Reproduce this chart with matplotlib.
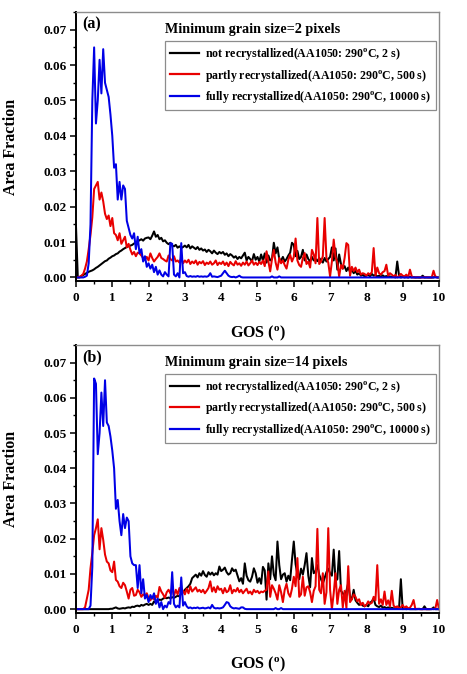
import numpy as np
import matplotlib
matplotlib.use("Agg")
import matplotlib.pyplot as plt
from matplotlib.ticker import MultipleLocator, FormatStrFormatter

plt.rcParams["font.family"] = ["Liberation Serif", "DejaVu Serif"]
plt.rcParams["font.weight"] = "bold"
plt.rcParams["mathtext.fontset"] = "custom"
plt.rcParams["mathtext.rm"] = "Liberation Serif:bold"
plt.rcParams["mathtext.bf"] = "Liberation Serif:bold"
plt.rcParams["mathtext.it"] = "Liberation Serif:bold"
plt.rcParams["mathtext.default"] = "bf"

# GOS grid (degrees), step 0.05
gos = np.linspace(0, 10, 201)

labels = [
    r"not recrystallized(AA1050: 290$^{o}$C, 2 s)",
    r"partly recrystallized(AA1050: 290$^{o}$C, 500 s)",
    r"fully recrystallized(AA1050: 290$^{o}$C, 10000 s)",
]
titles = ["Minimum grain size=2 pixels", "Minimum grain size=14 pixels"]
panel_tags = ["(a)", "(b)"]

# ---- panel (a): minimum grain size 2 pixels ----
a_not = [
    0.0145, 0.0, 0.0, 0.0004, 0.0007, 0.001, 0.0013, 0.0016, 0.0018, 0.002, 0.0023, 0.0027, 0.003, 0.0034, 0.0038, 0.0042, 0.0046, 0.0048, 0.0053, 0.0056,
    0.006, 0.0062, 0.0066, 0.0068, 0.0073, 0.0076, 0.008, 0.0083, 0.0086, 0.0088, 0.009, 0.0092, 0.0096, 0.0098, 0.0102, 0.0105, 0.0108, 0.0104, 0.011, 0.0112,
    0.0113, 0.0108, 0.0118, 0.013, 0.0115, 0.012, 0.0108, 0.0112, 0.0102, 0.0105, 0.0098, 0.0094, 0.0098, 0.009, 0.0088, 0.0092, 0.0084, 0.0088, 0.0083, 0.0086,
    0.009, 0.0085, 0.0092, 0.0082, 0.0088, 0.0084, 0.008, 0.0086, 0.0078, 0.0082, 0.0076, 0.0079, 0.0072, 0.0078, 0.0074, 0.0068, 0.0076, 0.007, 0.0066, 0.0072,
    0.0068, 0.0072, 0.0064, 0.0068, 0.006, 0.0066, 0.0062, 0.0056, 0.006, 0.0052, 0.0058, 0.0054, 0.0062, 0.007, 0.0048, 0.0058, 0.0052, 0.0046, 0.0066, 0.005,
    0.0058, 0.0045, 0.0065, 0.0048, 0.0068, 0.0042, 0.0062, 0.0048, 0.0052, 0.0098, 0.0068, 0.0085, 0.0052, 0.0048, 0.0058, 0.0045, 0.0052, 0.0062, 0.007, 0.0098,
    0.0092, 0.006, 0.0075, 0.0052, 0.0058, 0.0078, 0.0048, 0.0065, 0.0052, 0.0045, 0.0058, 0.0048, 0.0052, 0.0046, 0.0055, 0.0048, 0.0042, 0.0055, 0.0045, 0.0052,
    0.0058, 0.0085, 0.0048, 0.0082, 0.0022, 0.0065, 0.0038, 0.0025, 0.0032, 0.0018, 0.0028, 0.0015, 0.0022, 0.0012, 0.0018, 0.0008, 0.0012, 0.0005, 0.0008, 0.0003,
    0.0005, 0.0008, 0.0003, 0.001, 0.0005, 0.0007, 0.0003, 0.0005, 0.0002, 0.0006, 0.0002, 0.0004, 0.0002, 0.0003, 0.0001, 0.0002, 0.0, 0.0045, 0.0005, 0.0,
    0.0002, 0.0, 0.0001, 0.0, 0.0002, 0.0, 0.0001, 0.0, 0.0, 0.0, 0.0, 0.0005, 0.0, 0.0, 0.0, 0.0, 0.0, 0.0, 0.0003, 0.0,
    0.0,
]
a_partly = [
    0.0, 0.0, 0.0002, 0.0005, 0.001, 0.0025, 0.0045, 0.008, 0.012, 0.017, 0.025, 0.026, 0.027, 0.022, 0.024, 0.0215, 0.018, 0.0165, 0.0175, 0.0145,
    0.0168, 0.0125, 0.012, 0.0105, 0.0125, 0.0095, 0.0105, 0.0115, 0.0085, 0.0095, 0.0078, 0.0065, 0.0072, 0.006, 0.007, 0.0068, 0.0062, 0.0055, 0.005, 0.0058,
    0.0048, 0.0068, 0.0055, 0.0045, 0.0052, 0.0058, 0.0068, 0.0055, 0.0052, 0.0048, 0.0045, 0.0062, 0.0052, 0.0048, 0.006, 0.0045, 0.0048, 0.0042, 0.0055, 0.004,
    0.0048, 0.0042, 0.005, 0.0038, 0.0045, 0.004, 0.0048, 0.0036, 0.0044, 0.004, 0.0046, 0.0035, 0.0042, 0.0038, 0.0045, 0.0036, 0.004, 0.0048, 0.0035, 0.0042,
    0.0038, 0.0045, 0.0035, 0.0042, 0.0032, 0.0044, 0.0038, 0.0034, 0.0046, 0.0036, 0.004, 0.0033, 0.0042, 0.0036, 0.0045, 0.0034, 0.004, 0.0048, 0.0036, 0.0042,
    0.0035, 0.0044, 0.0038, 0.0048, 0.0032, 0.0074, 0.0045, 0.0017, 0.0052, 0.0078, 0.0042, 0.0022, 0.0055, 0.004, 0.0048, 0.0035, 0.0025, 0.005, 0.0064, 0.0045,
    0.0058, 0.011, 0.0048, 0.0035, 0.003, 0.0055, 0.0069, 0.0038, 0.0045, 0.0028, 0.0078, 0.0065, 0.004, 0.0168, 0.0038, 0.0045, 0.006, 0.0168, 0.0055, 0.0042,
    0.0003, 0.0045, 0.0107, 0.0058, 0.0042, 0.0003, 0.0035, 0.0025, 0.0055, 0.0097, 0.0092, 0.0005, 0.003, 0.0018, 0.0028, 0.0015, 0.0022, 0.0008, 0.0012, 0.001,
    0.0005, 0.0012, 0.0008, 0.0015, 0.0083, 0.0005, 0.0028, 0.0012, 0.0008, 0.0015, 0.0018, 0.0036, 0.0005, 0.0012, 0.0008, 0.0003, 0.0007, 0.0, 0.0004, 0.001,
    0.0005, 0.0003, 0.0008, 0.0, 0.0022, 0.0003, 0.0, 0.0, 0.0001, 0.0, 0.0, 0.0, 0.0, 0.0001, 0.0, 0.0, 0.0, 0.0019, 0.0002, 0.0,
    0.0,
]
a_fully = [
    0.0, 0.0, 0.0, 0.0, 0.0, 0.0002, 0.0005, 0.004, 0.015, 0.05, 0.065, 0.0435, 0.05, 0.0615, 0.052, 0.0645, 0.055, 0.053, 0.051, 0.046,
    0.04, 0.031, 0.032, 0.022, 0.027, 0.022, 0.026, 0.025, 0.016, 0.014, 0.012, 0.011, 0.0125, 0.008, 0.0115, 0.0068, 0.008, 0.0045, 0.006, 0.003,
    0.004, 0.0025, 0.0036, 0.0015, 0.003, 0.0008, 0.002, 0.0008, 0.0003, 0.0015, 0.0008, 0.0003, 0.0097, 0.0095, 0.0008, 0.0003, 0.0012, 0.0, 0.0097, 0.0012,
    0.0015, 0.0004, 0.0002, 0.0004, 0.0002, 0.0003, 0.0002, 0.0004, 0.0002, 0.0003, 0.0002, 0.0003, 0.0002, 0.0004, 0.0012, 0.0002, 0.0003, 0.0002, 0.0001, 0.0003,
    0.0005, 0.0012, 0.0019, 0.0012, 0.0005, 0.0002, 0.0001, 0.0002, 0.0, 0.0002, 0.0005, 0.0001, 0.0, 0.0, 0.0, 0.0, 0.0, 0.0, 0.0, 0.0,
    0.0, 0.0, 0.0, 0.0, 0.0, 0.0, 0.0, 0.0, 0.0003, 0.0, 0.0, 0.0, 0.0003, 0.0, 0.0, 0.0, 0.0, 0.0, 0.0, 0.0,
    0.0, 0.0, 0.0, 0.0, 0.0, 0.0, 0.0, 0.0, 0.0, 0.0, 0.0, 0.0, 0.0, 0.0, 0.0, 0.0, 0.0, 0.0, 0.0, 0.0,
    0.0, 0.0, 0.0, 0.0, 0.0, 0.0, 0.0, 0.0, 0.0, 0.0, 0.0, 0.0, 0.0, 0.0, 0.0, 0.0, 0.0, 0.0, 0.0, 0.0,
    0.0, 0.0, 0.0, 0.0, 0.0, 0.0, 0.0, 0.0, 0.0, 0.0, 0.0, 0.0, 0.0, 0.0, 0.0, 0.0, 0.0, 0.0, 0.0, 0.0,
    0.0, 0.0, 0.0, 0.0, 0.0, 0.0, 0.0, 0.0, 0.0, 0.0, 0.0, 0.0, 0.0, 0.0, 0.0, 0.0, 0.0, 0.0, 0.0, 0.0,
    0.0,
]

# ---- panel (b): minimum grain size 14 pixels ----
b_not = [
    0.0, 0.0, 0.0, 0.0, 0.0, 0.0, 0.0, 0.0, 0.0, 0.0, 0.0, 0.0, 0.0, 0.0, 0.0, 0.0, 0.0, 0.0, 0.0, 0.0001,
    0.0001, 0.0003, 0.0005, 0.0002, 0.0001, 0.0002, 0.0003, 0.0002, 0.0004, 0.0005, 0.0004, 0.0007, 0.0006, 0.0009, 0.001, 0.0008, 0.0012, 0.001, 0.0013, 0.0015,
    0.0012, 0.0015, 0.0012, 0.0022, 0.0018, 0.0024, 0.0027, 0.0026, 0.003, 0.0032, 0.0031, 0.0033, 0.0031, 0.0034, 0.0032, 0.0035, 0.0038, 0.0036, 0.0045, 0.0048,
    0.0055, 0.006, 0.0065, 0.0072, 0.0088, 0.0093, 0.0098, 0.009, 0.0102, 0.0095, 0.0108, 0.0097, 0.0092, 0.0105, 0.0098, 0.0104, 0.0096, 0.0102, 0.0098, 0.0121,
    0.0108, 0.0112, 0.0118, 0.0105, 0.0098, 0.0102, 0.0116, 0.0108, 0.0112, 0.0095, 0.0079, 0.0088, 0.0072, 0.013, 0.0095, 0.0082, 0.0078, 0.0092, 0.0116, 0.0102,
    0.0075, 0.0088, 0.0072, 0.012, 0.011, 0.0027, 0.013, 0.0085, 0.015, 0.0098, 0.0082, 0.0192, 0.0125, 0.0085, 0.0098, 0.0102, 0.0078, 0.0095, 0.0082, 0.014,
    0.0192, 0.0128, 0.0098, 0.0085, 0.0115, 0.0098, 0.0125, 0.0159, 0.0095, 0.0062, 0.0145, 0.0102, 0.0108, 0.0125, 0.0098, 0.0085, 0.0072, 0.0088, 0.0105, 0.0115,
    0.0102, 0.0095, 0.0169, 0.008, 0.0085, 0.0165, 0.0052, 0.0045, 0.0038, 0.0052, 0.0074, 0.0035, 0.0028, 0.0055, 0.0025, 0.0018, 0.0012, 0.0016, 0.001, 0.0008,
    0.0012, 0.0008, 0.0018, 0.0022, 0.003, 0.0012, 0.0008, 0.0006, 0.001, 0.0004, 0.0006, 0.0003, 0.0005, 0.0002, 0.0004, 0.0002, 0.0003, 0.0001, 0.0002, 0.0085,
    0.0, 0.0001, 0.0, 0.0001, 0.0, 0.0, 0.0, 0.0, 0.0, 0.0001, 0.0, 0.0, 0.0008, 0.0, 0.0, 0.0, 0.0, 0.0005, 0.0, 0.0,
    0.0,
]
b_partly = [
    0.0, 0.0, 0.0, 0.0, 0.0, 0.0005, 0.003, 0.0055, 0.0116, 0.016, 0.021, 0.023, 0.0255, 0.017, 0.023, 0.0197, 0.0155, 0.0135, 0.013, 0.011,
    0.0105, 0.0135, 0.0083, 0.0078, 0.0065, 0.006, 0.0075, 0.0068, 0.005, 0.003, 0.0055, 0.006, 0.0038, 0.004, 0.0055, 0.0048, 0.0035, 0.0042, 0.0038, 0.0045,
    0.0032, 0.0025, 0.0035, 0.0028, 0.0038, 0.0032, 0.0063, 0.005, 0.0042, 0.0032, 0.0048, 0.0055, 0.0045, 0.006, 0.0038, 0.0055, 0.0042, 0.006, 0.0045, 0.0052,
    0.0042, 0.0058, 0.0045, 0.0065, 0.005, 0.0056, 0.0062, 0.005, 0.0055, 0.0048, 0.0055, 0.0045, 0.0052, 0.006, 0.0079, 0.005, 0.0062, 0.0048, 0.0065, 0.0055,
    0.0058, 0.0045, 0.006, 0.0048, 0.0052, 0.0068, 0.0045, 0.0055, 0.005, 0.006, 0.0048, 0.0055, 0.0045, 0.0052, 0.0058, 0.0045, 0.005, 0.0042, 0.0055, 0.0048,
    0.0052, 0.0045, 0.005, 0.0048, 0.0052, 0.0055, 0.0107, 0.0035, 0.0068, 0.0058, 0.0045, 0.0027, 0.0068, 0.0048, 0.002, 0.0055, 0.0072, 0.0045, 0.0035, 0.0058,
    0.0092, 0.0065, 0.0145, 0.0035, 0.0042, 0.0092, 0.0038, 0.0062, 0.0065, 0.0048, 0.002, 0.0052, 0.0065, 0.0228, 0.0055, 0.0045, 0.0102, 0.0015, 0.0048, 0.023,
    0.0055, 0.0, 0.0045, 0.0102, 0.0015, 0.0055, 0.0068, 0.0005, 0.0052, 0.0003, 0.0122, 0.002, 0.0028, 0.0042, 0.0035, 0.0022, 0.0028, 0.0012, 0.0018, 0.0008,
    0.0012, 0.0022, 0.0015, 0.0018, 0.0035, 0.0025, 0.0125, 0.0015, 0.0028, 0.0012, 0.005, 0.0012, 0.0025, 0.0008, 0.0052, 0.001, 0.0005, 0.0008, 0.0003, 0.0005,
    0.0012, 0.0003, 0.0008, 0.0002, 0.0004, 0.0012, 0.0026, 0.0, 0.0001, 0.0, 0.0, 0.0, 0.0, 0.0, 0.0, 0.0, 0.0001, 0.0, 0.0002, 0.0026,
    0.0,
]
b_fully = [
    0.0, 0.0, 0.0, 0.0, 0.0, 0.0, 0.0, 0.0, 0.001, 0.012, 0.0655, 0.064, 0.044, 0.05, 0.0615, 0.052, 0.065, 0.053, 0.052, 0.049,
    0.045, 0.04, 0.0285, 0.031, 0.025, 0.021, 0.027, 0.023, 0.026, 0.025, 0.015, 0.013, 0.0125, 0.0125, 0.006, 0.0125, 0.0045, 0.0085, 0.003, 0.004,
    0.002, 0.004, 0.003, 0.0045, 0.0015, 0.003, 0.0005, 0.002, 0.0, 0.001, 0.0005, 0.002, 0.0015, 0.0105, 0.0015, 0.0005, 0.001, 0.0005, 0.009, 0.001,
    0.002, 0.0008, 0.0003, 0.0005, 0.0002, 0.0004, 0.0003, 0.0005, 0.0002, 0.0003, 0.0004, 0.0002, 0.0003, 0.0005, 0.0002, 0.0012, 0.0004, 0.0002, 0.0003, 0.0002,
    0.0003, 0.0005, 0.0012, 0.002, 0.0018, 0.0008, 0.0004, 0.0002, 0.0003, 0.0002, 0.0001, 0.0005, 0.0005, 0.0001, 0.0, 0.0, 0.0, 0.0, 0.0, 0.0,
    0.0, 0.0, 0.0, 0.0, 0.0, 0.0, 0.0, 0.0, 0.0, 0.0, 0.0003, 0.0, 0.0, 0.0003, 0.0, 0.0, 0.0, 0.0, 0.0, 0.0,
    0.0, 0.0, 0.0, 0.0, 0.0, 0.0, 0.0, 0.0, 0.0, 0.0, 0.0, 0.0, 0.0, 0.0, 0.0, 0.0, 0.0, 0.0, 0.0, 0.0,
    0.0, 0.0, 0.0, 0.0, 0.0, 0.0, 0.0, 0.0, 0.0, 0.0, 0.0, 0.0, 0.0, 0.0, 0.0, 0.0, 0.0, 0.0, 0.0, 0.0,
    0.0, 0.0, 0.0, 0.0, 0.0, 0.0, 0.0, 0.0, 0.0, 0.0, 0.0, 0.0, 0.0, 0.0, 0.0, 0.0, 0.0, 0.0, 0.0, 0.0,
    0.0, 0.0, 0.0, 0.0, 0.0, 0.0, 0.0, 0.0, 0.0, 0.0, 0.0, 0.0, 0.0, 0.0, 0.0, 0.0, 0.0, 0.0, 0.0, 0.0,
    0.0,
]

panels = [(a_not, a_partly, a_fully), (b_not, b_partly, b_fully)]
colors = ["black", "#e80000", "#0000e6"]

fig = plt.figure(figsize=(4.67, 6.74), dpi=100)
axes = [
    fig.add_axes([0.1627, 0.5831, 0.7773, 0.3991]),
    fig.add_axes([0.1627, 0.0910, 0.7773, 0.3971]),
]

for ax, series, title, tag in zip(axes, panels, titles, panel_tags):
    for vals, col, lab in zip(series, colors, labels):
        ax.plot(gos, vals, color=col, lw=1.45, label=lab)

    ax.set_xlim(0, 10)
    ax.set_ylim(-0.001, 0.075)
    ax.xaxis.set_major_locator(MultipleLocator(1))
    ax.xaxis.set_minor_locator(MultipleLocator(0.5))
    ax.yaxis.set_major_locator(MultipleLocator(0.01))
    ax.yaxis.set_minor_locator(MultipleLocator(0.005))
    ax.yaxis.set_major_formatter(FormatStrFormatter("%.2f"))
    ax.tick_params(which="major", direction="out", length=4, width=1.1,
                   labelsize=9.5, pad=2.5, top=False, right=False)
    ax.tick_params(which="minor", direction="out", length=2.5, width=1.0,
                   top=False, right=False)
    ax.tick_params(axis="x", which="major", pad=4)

    for side in ["left", "bottom"]:
        ax.spines[side].set_linewidth(1.4)
        ax.spines[side].set_color("black")
    for side in ["top", "right"]:
        ax.spines[side].set_linewidth(1.0)
        ax.spines[side].set_color("#8c8c8c")

    ax.set_ylabel("Area Fraction", fontsize=11.5, fontweight="bold")
    ax.yaxis.set_label_coords(-0.157, 0.5)
    ax.set_xlabel(r"GOS ($^{o}$)", fontsize=11.5, fontweight="bold")
    ax.xaxis.set_label_coords(0.5, -0.158)

    ax.text(0.016, 0.955, tag, transform=ax.transAxes, fontsize=11.5,
            fontweight="bold", va="center", ha="left")
    ax.text(0.245, 0.935, title, transform=ax.transAxes, fontsize=10.2,
            fontweight="bold", va="center", ha="left")

    leg = ax.legend(loc="upper right", bbox_to_anchor=(0.992, 0.893),
                    fontsize=8.6, frameon=True, fancybox=False,
                    edgecolor="#707070", handlelength=2.4, handletextpad=0.5,
                    labelspacing=0.45, borderpad=0.45, borderaxespad=0.0)
    leg.get_frame().set_linewidth(0.9)
    for h in leg.get_lines():
        h.set_linewidth(1.6)

fig.savefig("out.png", dpi=100)
